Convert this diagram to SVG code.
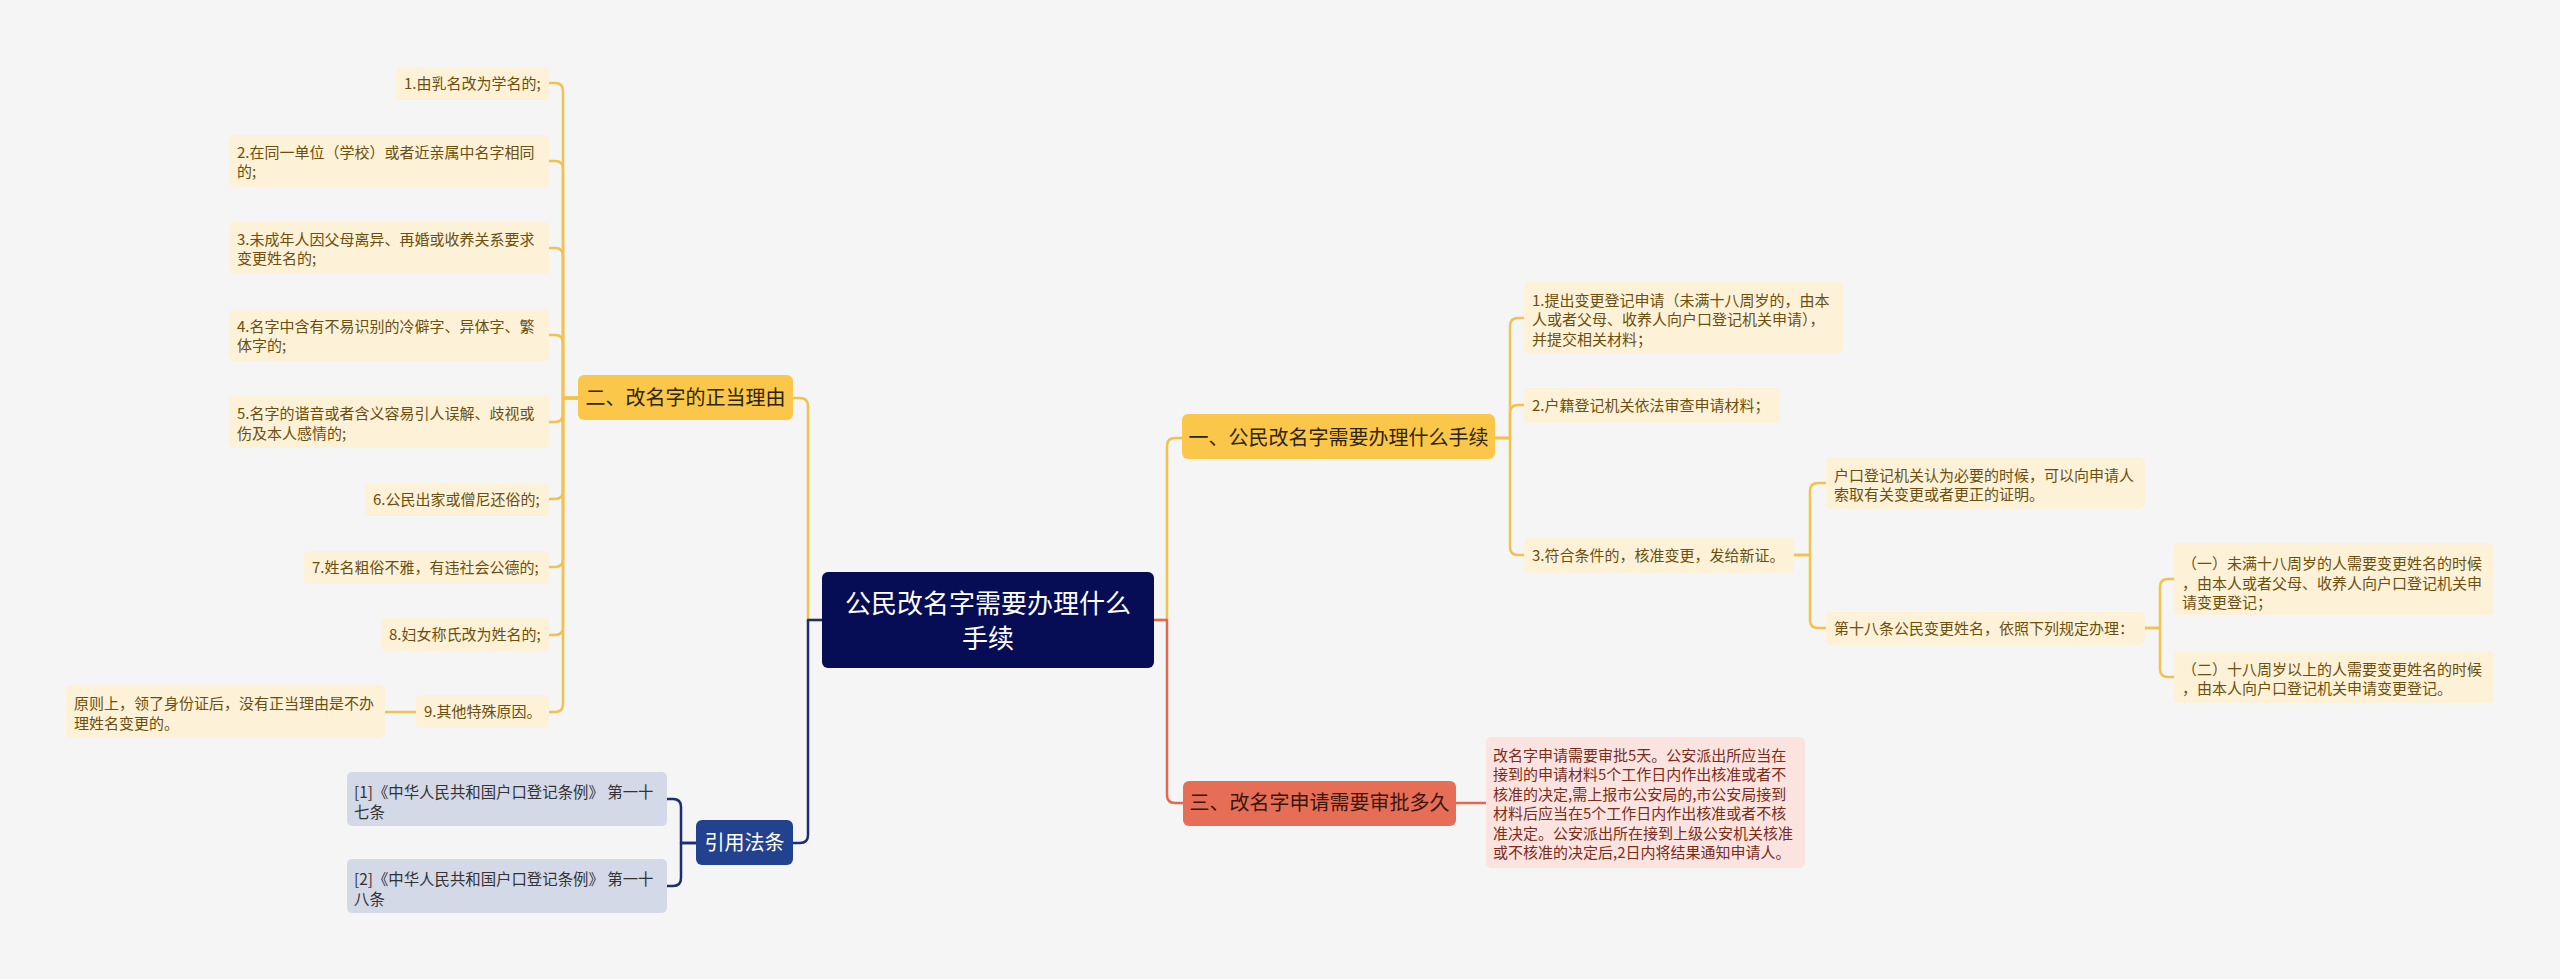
<svg xmlns="http://www.w3.org/2000/svg" width="2560" height="979" viewBox="0 0 2560 979">
<style>
text{font-family:"Noto Sans CJK SC","Microsoft YaHei",sans-serif;}
.c{fill:none;stroke-width:2.5;stroke-linecap:round;stroke-linejoin:round;}
.cg{stroke:#f3c14e;}
.cn{stroke:#1d2d72;}
.cr{stroke:#e2694f;}
.leaf{fill:#fdf2d8;}
.lt{font-size:15px;fill:#6b4f0e;}
.cite{fill:#d4d9e8;}
.ct{font-size:15.4px;fill:#333333;}
.pink{fill:#fbe4df;}
.pt{font-size:15px;fill:#7a2c1c;}
.bg{fill:#fbc74b;}
.bt{font-size:20px;fill:#2e2406;text-anchor:middle;}
.br{fill:#e76e56;}
.brt{font-size:20px;fill:#3a160c;text-anchor:middle;}
.bn{fill:#22418f;}
.bnt{font-size:20px;fill:#ffffff;text-anchor:middle;}
</style>
<rect x="0" y="0" width="2560" height="979" fill="#f5f5f5"/>
<g id="connectors">
<path class="c cg" d="M822 620 H808 V406 Q808 398 800 398 H793"/>
<path class="c cn" d="M822 620 H808 V835 Q808 843 800 843 H793"/>
<path class="c cg" d="M1154 620 H1167 V446 Q1167 438 1175 438 H1182"/>
<path class="c cr" d="M1154 620 H1167 V795 Q1167 803 1175 803 H1183"/>
<path class="c cg" d="M578 398 H563 V91 Q563 83 555 83 H549"/>
<path class="c cg" d="M578 398 H563 V169 Q563 161 555 161 H549"/>
<path class="c cg" d="M578 398 H563 V256 Q563 248 555 248 H549"/>
<path class="c cg" d="M578 398 H563 V343 Q563 335 555 335 H549"/>
<path class="c cg" d="M578 398 H563 V414 Q563 422 555 422 H549"/>
<path class="c cg" d="M578 398 H563 V491 Q563 499 555 499 H549"/>
<path class="c cg" d="M578 398 H563 V559 Q563 567 555 567 H549"/>
<path class="c cg" d="M578 398 H563 V627 Q563 635 555 635 H549"/>
<path class="c cg" d="M578 398 H563 V704 Q563 712 555 712 H549"/>
<path class="c cg" d="M416 712 H385"/>
<path class="c cn" d="M696 843 H681 V807 Q681 799 673 799 H667"/>
<path class="c cn" d="M696 843 H681 V878 Q681 886 673 886 H667"/>
<path class="c cg" d="M1495 438 H1510 V326 Q1510 318 1518 318 H1524"/>
<path class="c cg" d="M1495 438 H1510 V413 Q1510 405 1518 405 H1524"/>
<path class="c cg" d="M1495 438 H1510 V547 Q1510 555 1518 555 H1524"/>
<path class="c cg" d="M1794 555 H1810 V491 Q1810 483 1818 483 H1826"/>
<path class="c cg" d="M1794 555 H1810 V620 Q1810 628 1818 628 H1826"/>
<path class="c cg" d="M2145 628 H2160 V587 Q2160 579 2168 579 H2174"/>
<path class="c cg" d="M2145 628 H2160 V669 Q2160 677 2168 677 H2174"/>
<path class="c cr" d="M1456 803 H1486"/>
</g>
<g id="root">
<rect x="822" y="572" width="332" height="96" rx="6" fill="#070d55"/>
<text x="988" y="612.5" font-size="26" fill="#ffffff" text-anchor="middle">公民改名字需要办理什么</text>
<text x="988" y="647.5" font-size="26" fill="#ffffff" text-anchor="middle">手续</text>
</g>
<g id="branch1">
<rect class="bg" x="1182" y="414" width="313" height="45" rx="6"/>
<text class="bt" x="1338.5" y="445">一、公民改名字需要办理什么手续</text>
</g>
<g id="branch2">
<rect class="bg" x="578" y="375" width="215" height="45" rx="6"/>
<text class="bt" x="685.5" y="405">二、改名字的正当理由</text>
</g>
<g id="branch3">
<rect class="br" x="1183" y="781" width="273" height="45" rx="6"/>
<text class="brt" x="1319.5" y="810">三、改名字申请需要审批多久</text>
</g>
<g id="branch4">
<rect class="bn" x="696" y="820" width="97" height="45" rx="6"/>
<text class="bnt" x="744.5" y="850">引用法条</text>
</g>
<g id="reason1">
<rect class="leaf" x="396" y="67" width="153" height="33" rx="5"/>
<text class="lt" x="404" y="89">1.由乳名改为学名的;</text>
</g>
<g id="reason2">
<rect class="leaf" x="229" y="135" width="320" height="52" rx="5"/>
<text class="lt" x="237" y="158">2.在同一单位（学校）或者近亲属中名字相同</text>
<text class="lt" x="237" y="177">的;</text>
</g>
<g id="reason3">
<rect class="leaf" x="229" y="222" width="320" height="52" rx="5"/>
<text class="lt" x="237" y="245">3.未成年人因父母离异、再婚或收养关系要求</text>
<text class="lt" x="237" y="264">变更姓名的;</text>
</g>
<g id="reason4">
<rect class="leaf" x="229" y="309" width="320" height="52" rx="5"/>
<text class="lt" x="237" y="332">4.名字中含有不易识别的冷僻字、异体字、繁</text>
<text class="lt" x="237" y="351">体字的;</text>
</g>
<g id="reason5">
<rect class="leaf" x="229" y="395" width="320" height="53" rx="5"/>
<text class="lt" x="237" y="419">5.名字的谐音或者含义容易引人误解、歧视或</text>
<text class="lt" x="237" y="439">伤及本人感情的;</text>
</g>
<g id="reason6">
<rect class="leaf" x="365" y="483" width="184" height="33" rx="5"/>
<text class="lt" x="373" y="505">6.公民出家或僧尼还俗的;</text>
</g>
<g id="reason7">
<rect class="leaf" x="304" y="551" width="245" height="33" rx="5"/>
<text class="lt" x="312" y="573">7.姓名粗俗不雅，有违社会公德的;</text>
</g>
<g id="reason8">
<rect class="leaf" x="381" y="618" width="168" height="33" rx="5"/>
<text class="lt" x="389" y="640">8.妇女称氏改为姓名的;</text>
</g>
<g id="reason9">
<rect class="leaf" x="416" y="695" width="133" height="33" rx="5"/>
<text class="lt" x="424" y="717">9.其他特殊原因。</text>
</g>
<g id="reason9note">
<rect class="leaf" x="66" y="685" width="319" height="53" rx="5"/>
<text class="lt" x="74" y="709">原则上，领了身份证后，没有正当理由是不办</text>
<text class="lt" x="74" y="729">理姓名变更的。</text>
</g>
<g id="cite1">
<rect class="cite" x="347" y="772" width="320" height="54" rx="5"/>
<text class="ct" x="354" y="798">[1]《中华人民共和国户口登记条例》 第一十</text>
<text class="ct" x="354" y="818">七条</text>
</g>
<g id="cite2">
<rect class="cite" x="347" y="859" width="320" height="54" rx="5"/>
<text class="ct" x="354" y="885">[2]《中华人民共和国户口登记条例》 第一十</text>
<text class="ct" x="354" y="905">八条</text>
</g>
<g id="step1">
<rect class="leaf" x="1524" y="282" width="319" height="72" rx="5"/>
<text class="lt" x="1532" y="306">1.提出变更登记申请（未满十八周岁的，由本</text>
<text class="lt" x="1532" y="325">人或者父母、收养人向户口登记机关申请），</text>
<text class="lt" x="1532" y="345">并提交相关材料；</text>
</g>
<g id="step2">
<rect class="leaf" x="1524" y="388" width="256" height="35" rx="5"/>
<text class="lt" x="1532" y="411">2.户籍登记机关依法审查申请材料；</text>
</g>
<g id="step3">
<rect class="leaf" x="1524" y="538" width="270" height="35" rx="5"/>
<text class="lt" x="1532" y="561">3.符合条件的，核准变更，发给新证。</text>
</g>
<g id="step3a">
<rect class="leaf" x="1826" y="457" width="319" height="52" rx="5"/>
<text class="lt" x="1834" y="481">户口登记机关认为必要的时候，可以向申请人</text>
<text class="lt" x="1834" y="500">索取有关变更或者更正的证明。</text>
</g>
<g id="step3b">
<rect class="leaf" x="1826" y="612" width="319" height="33" rx="5"/>
<text class="lt" x="1834" y="634">第十八条公民变更姓名，依照下列规定办理：</text>
</g>
<g id="step3b1">
<rect class="leaf" x="2174" y="543" width="320" height="72" rx="5"/>
<text class="lt" x="2182" y="569">（一）未满十八周岁的人需要变更姓名的时候</text>
<text class="lt" x="2182" y="589">，由本人或者父母、收养人向户口登记机关申</text>
<text class="lt" x="2182" y="608">请变更登记；</text>
</g>
<g id="step3b2">
<rect class="leaf" x="2174" y="651" width="320" height="52" rx="5"/>
<text class="lt" x="2182" y="675">（二）十八周岁以上的人需要变更姓名的时候</text>
<text class="lt" x="2182" y="694">，由本人向户口登记机关申请变更登记。</text>
</g>
<g id="approval">
<rect class="pink" x="1486" y="737" width="319" height="131" rx="5"/>
<text class="pt" x="1493" y="761">改名字申请需要审批5天。公安派出所应当在</text>
<text class="pt" x="1493" y="780">接到的申请材料5个工作日内作出核准或者不</text>
<text class="pt" x="1493" y="800">核准的决定,需上报市公安局的,市公安局接到</text>
<text class="pt" x="1493" y="819">材料后应当在5个工作日内作出核准或者不核</text>
<text class="pt" x="1493" y="839">准决定。公安派出所在接到上级公安机关核准</text>
<text class="pt" x="1493" y="858">或不核准的决定后,2日内将结果通知申请人。</text>
</g>
</svg>
